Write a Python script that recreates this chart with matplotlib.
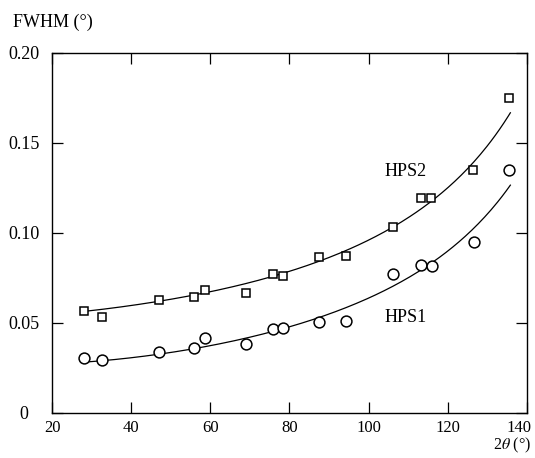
import numpy as np
import matplotlib
matplotlib.use('Agg')
import matplotlib.pyplot as plt
from matplotlib.transforms import ScaledTranslation

plt.rcParams['font.family'] = ['Liberation Serif', 'DejaVu Serif']
plt.rcParams['mathtext.fontset'] = 'stix'

# measured points: 2theta (deg), FWHM (deg)
tt_hps2 = [28.1, 32.7, 47.1, 55.9, 58.6, 68.9, 75.8, 78.3, 87.5, 94.3,
           106.2, 113.2, 115.8, 126.4, 135.5]
fw_hps2 = [0.0567, 0.0535, 0.0628, 0.0644, 0.0683, 0.0669, 0.0774, 0.0761, 0.0866, 0.0872,
           0.1033, 0.1194, 0.1194, 0.1350, 0.1750]

tt_hps1 = [28.1, 32.7, 47.1, 55.9, 58.6, 68.9, 75.8, 78.3, 87.5, 94.3,
           106.2, 113.2, 116.0, 126.6, 135.5]
fw_hps1 = [0.0304, 0.0294, 0.0339, 0.0363, 0.0419, 0.0381, 0.0465, 0.0474, 0.0506, 0.0511,
           0.0772, 0.0822, 0.0817, 0.0950, 0.1350]

# resolution curves, values
ct_hps2 = [28.3, 48.0, 68.9, 78.3, 87.5, 106.2, 115.0, 126.4, 135.8]
cf_hps2 = [0.0560, 0.0622, 0.0715, 0.0774, 0.0850, 0.1035, 0.1193, 0.1350, 0.1680]
ct_hps1 = [28.3, 33.0, 47.0, 69.0, 78.3, 87.5, 94.3, 113.0, 126.0, 135.8]
cf_hps1 = [0.0304, 0.0306, 0.0339, 0.0400, 0.0456, 0.0510, 0.0557, 0.0817, 0.1030, 0.1256]

xticks = [20, 40, 60, 80, 100, 120, 140]
yticks = [0, 0.05, 0.10, 0.15, 0.20]
ylabels = ['0', '0.05', '0.10', '0.15', '0.20']


def caglioti(tt, fw, tt_new):
    # FWHM^2 = U tan^2(th) + V tan(th) + W
    t = np.tan(np.deg2rad(np.asarray(tt)) / 2)
    c = np.polyfit(t, np.asarray(fw) ** 2, 2)
    tn = np.tan(np.deg2rad(tt_new) / 2)
    return np.sqrt(np.polyval(c, tn))


fig = plt.figure(figsize=(5.35, 4.58), dpi=100)
ax = fig.add_axes([0.0972, 0.0983, 0.8878, 0.7860])

for tt, fw in [(ct_hps2, cf_hps2), (ct_hps1, cf_hps1)]:
    xs = np.linspace(tt[0], tt[-1], 200)
    ax.plot(xs, caglioti(tt, fw, xs), color='black', lw=0.9)

ax.plot(tt_hps2, fw_hps2, ls='none', marker='s', ms=6.2, mfc='white', mec='black', mew=1.1)
ax.plot(tt_hps1, fw_hps1, ls='none', marker='o', ms=7.8, mfc='white', mec='black', mew=1.1)

ax.text(104.1, 0.134, 'HPS2', fontsize=13, va='center', ha='left')
ax.text(104.1, 0.053, 'HPS1', fontsize=13, va='center', ha='left')

ax.set_xlim(20, 140)
ax.set_ylim(0, 0.20)
ax.set_xticks(xticks)
ax.set_yticks(yticks)
ax.set_yticklabels(ylabels)
ax.tick_params(direction='in', length=8, width=0.9, top=True, right=True, colors='black')
ax.tick_params(axis='y', pad=20, labelsize=13)
ax.tick_params(axis='x', pad=5, labelsize=12)
for lab in ax.get_yticklabels():
    lab.set_horizontalalignment('center')
# nudge the last x label inside the figure, as in the original
xl = ax.get_xticklabels()
xl[-1].set_transform(xl[-1].get_transform() + ScaledTranslation(-8 / 100, 0, fig.dpi_scale_trans))
for sp in ax.spines.values():
    sp.set_linewidth(1.0)

fig.text(0.024, 0.952, 'FWHM (°)', fontsize=13, ha='left', va='center')
fig.text(0.992, 0.006, r'2$\theta$ (°)', fontsize=11.5, ha='right', va='bottom')

fig.savefig('out.png', dpi=100)
